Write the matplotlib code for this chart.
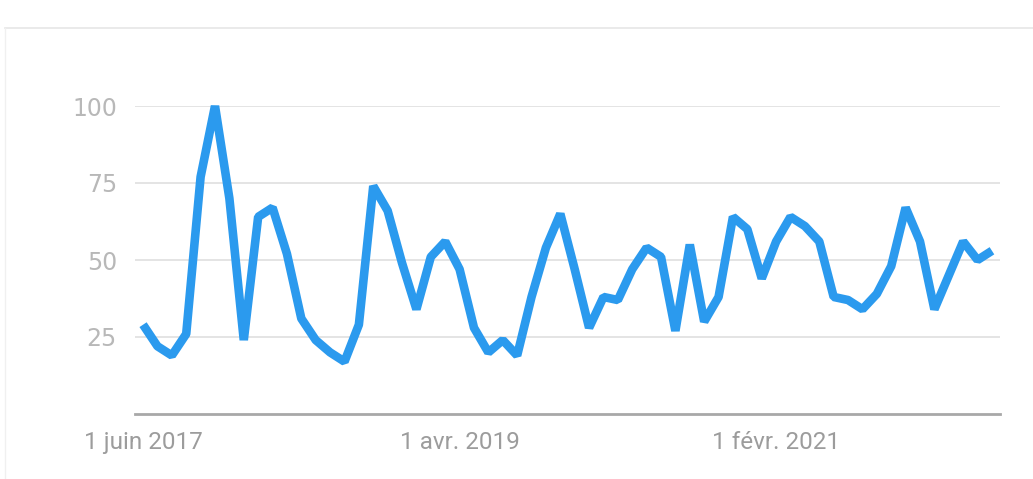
import matplotlib
matplotlib.use("Agg")
import matplotlib.pyplot as plt
from matplotlib.lines import Line2D

# Monthly interest, June 2017 -> May 2022
months = ["2017-06", "2017-07", "2017-08", "2017-09", "2017-10", "2017-11", "2017-12",
          "2018-01", "2018-02", "2018-03", "2018-04", "2018-05", "2018-06", "2018-07",
          "2018-08", "2018-09", "2018-10", "2018-11", "2018-12", "2019-01", "2019-02",
          "2019-03", "2019-04", "2019-05", "2019-06", "2019-07", "2019-08", "2019-09",
          "2019-10", "2019-11", "2019-12", "2020-01", "2020-02", "2020-03", "2020-04",
          "2020-05", "2020-06", "2020-07", "2020-08", "2020-09", "2020-10", "2020-11",
          "2020-12", "2021-01", "2021-02", "2021-03", "2021-04", "2021-05", "2021-06",
          "2021-07", "2021-08", "2021-09", "2021-10", "2021-11", "2021-12", "2022-01",
          "2022-02", "2022-03", "2022-04", "2022-05"]
values = [29, 22, 19, 26, 77, 100, 70, 24, 64, 67,
          52, 31, 24, 20, 17, 29, 74, 66, 49, 34,
          51, 56, 47, 28, 20, 24, 19, 38, 54, 65,
          47, 28, 38, 37, 47, 54, 51, 27, 55, 30,
          38, 64, 60, 44, 56, 64, 61, 56, 38, 37,
          34, 39, 48, 67, 56, 34, 45, 56, 50, 53]
y_ticks = [25, 50, 75, 100]
x_tick_months = ["2017-06", "2019-04", "2021-02"]
x_tick_labels = ["1 juin 2017", "1 avr. 2019", "1 févr. 2021"]

W, H = 1033, 479
fig = plt.figure(figsize=(W / 100, H / 100), dpi=100)
fig.patch.set_facecolor("white")

# card borders
fig.add_artist(Line2D([5 / W, 1], [1 - 28 / H, 1 - 28 / H], color="#e6e6e6", lw=1.2))
fig.add_artist(Line2D([5 / W, 5 / W], [0, 1 - 28 / H], color="#f0f0f0", lw=1.0))

left, right = 135 / W, 1000 / W
bottom, top = 1 - 414 / H, 1 - 106 / H
ax = fig.add_axes([left, bottom, right - left, top - bottom])

x = list(range(len(months)))
ax.plot(x, values, color="#2b9aee", lw=6.2, solid_joinstyle="bevel",
        solid_capstyle="butt", clip_on=False, zorder=3)

ax.set_xlim(-0.56, len(months) - 1 + 0.56)
ax.set_ylim(0, 100)

for v in y_ticks:
    ax.axhline(v, color="#e2e2e2", lw=1.3, zorder=1)
ax.axhline(0, color="#a8a8a8", lw=2.0, zorder=2, clip_on=False)

for s in ax.spines.values():
    s.set_visible(False)

ax.set_yticks(y_ticks)
ax.set_yticklabels([str(v) for v in y_ticks], fontsize=17, color="#b8b8b8",
                   family=["DejaVu Sans"])
ax.tick_params(axis="y", length=0, pad=13)

ax.set_xticks([months.index(m) for m in x_tick_months])
ax.set_xticklabels(x_tick_labels, fontsize=17.5, color="#9c9c9c", family=["Roboto"])
ax.tick_params(axis="x", length=0, pad=12)

fig.savefig("out.png", dpi=100, facecolor="white")
